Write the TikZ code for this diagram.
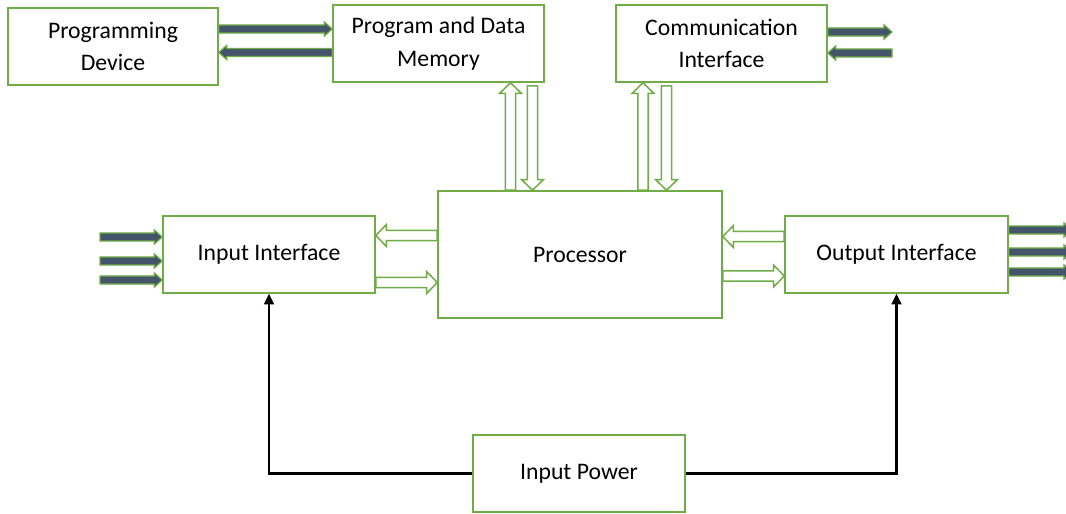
\documentclass[tikz,border=0pt]{standalone}
\usepackage{fontspec}
\setmainfont{Carlito}
\usetikzlibrary{arrows.meta,calc}
\definecolor{boxgreen}{HTML}{70AD47}
\definecolor{slate}{HTML}{44546A}
\begin{document}
\begin{tikzpicture}[x=0.02cm,y=-0.02cm,
  block/.style={draw=boxgreen, line width=0.9pt, fill=white, align=center,
    font=\fontsize{13.5}{18.5}\selectfont, inner sep=0pt, minimum height=1.54cm},
  % block arrow outline from the start point to the end point:
  % #1 = half body width, #2 = half head width, #3 = head length (pt)
  blockarrow/.style n args={3}{to path={
    let \p1=($(\tikztotarget)-(\tikztostart)$),
        \n1={veclen(\x1,\y1)}, \n2={atan2(\y1,\x1)} in
    {[shift={(\tikztostart)}, rotate=\n2, x=1pt, y=1pt]
      (0,-#1) -- (\n1-#3,-#1) -- (\n1-#3,-#2) -- (\n1,0)
      -- (\n1-#3,#2) -- (\n1-#3,#1) -- (0,#1) -- cycle}}},
  hollow/.style={draw=boxgreen, fill=white, line width=0.85pt,
    line join=miter, blockarrow={2.95}{6.2}{6}},
  darkarrow/.style={draw=boxgreen, fill=slate, line width=0.7pt,
    line join=miter, blockarrow={2.3}{4.1}{4.6}},
  power/.style={draw=black, line width=1.3pt, -{Triangle[length=6pt,width=5.5pt]}}
]
\useasboundingbox (0,0) rectangle (1066,514);

% blocks
\node[block, minimum width=4.2cm]  (pd)    at (113,46.5)  {Programming\\Device};
\node[block, minimum width=4.22cm] (mem)   at (438.5,43.5) {Program and Data\\Memory};
\node[block, minimum width=4.22cm] (comm)  at (721.5,43.5) {Communication\\Interface};
\node[block, minimum width=4.24cm] (inif)  at (269,254.5)  {Input Interface};
\node[block, minimum width=5.68cm, minimum height=2.54cm] (proc) at (580,254.5) {Processor};
\node[block, minimum width=4.46cm] (outif) at (896.5,254.5) {Output Interface};
\node[block, minimum width=4.24cm] (pow)   at (579,473.5)  {Input Power};

% free ends of the external signal lines
\coordinate (in1) at (100,237);
\coordinate (in2) at (100,261);
\coordinate (in3) at (100,280);
\coordinate (out1) at (1072,230);
\coordinate (out2) at (1072,252);
\coordinate (out3) at (1072,272);
\coordinate (ext1) at (892,32);
\coordinate (ext2) at (892,53);

% programming device <-> memory
\path[darkarrow] (pd.east |- 0,29) to (mem.west |- 0,29);
\path[darkarrow] (mem.west |- 0,52.5) to (pd.east |- 0,52.5);

% communication interface <-> outside
\path[darkarrow] (comm.east |- ext1) to (ext1);
\path[darkarrow] (ext2) to (comm.east |- ext2);

% external inputs and outputs
\path[darkarrow] (in1) to (inif.west |- in1);
\path[darkarrow] (in2) to (inif.west |- in2);
\path[darkarrow] (in3) to (inif.west |- in3);
\path[darkarrow] (outif.east |- out1) to (out1);
\path[darkarrow] (outif.east |- out2) to (out2);
\path[darkarrow] (outif.east |- out3) to (out3);

% processor buses
\path[hollow] (proc.north -| 510.5,0) to (mem.south -| 510.5,0);
\path[hollow] ($(mem.south -| 532.5,0)+(0,3)$) to (proc.north -| 532.5,0);
\path[hollow] (proc.north -| 643,0) to (comm.south -| 643,0);
\path[hollow] ($(comm.south -| 666.5,0)+(0,3)$) to (proc.north -| 666.5,0);
\path[hollow] (proc.west |- 0,235.5) to (inif.east |- 0,235.5);
\path[hollow] (inif.east |- 0,282.5) to (proc.west |- 0,282.5);
\path[hollow] (outif.west |- 0,236.5) to (proc.east |- 0,236.5);
\path[hollow] (proc.east |- 0,276) to (outif.west |- 0,276);

% power supply lines
\draw[power] (pow.west) -| (inif.south);
\draw[power] (pow.east) -| (outif.south);
\end{tikzpicture}
\end{document}
